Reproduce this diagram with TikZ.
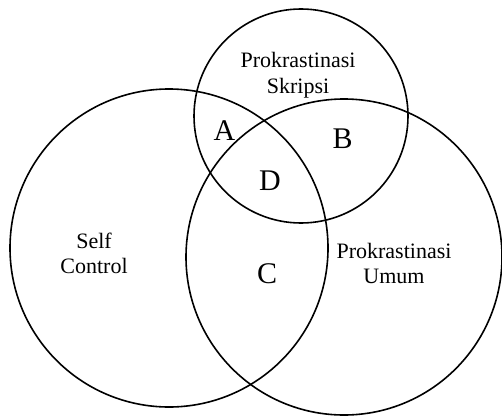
\documentclass[tikz,border=0pt]{standalone}
\usepackage{fontspec}
\setmainfont{Liberation Serif}
\begin{document}
\begin{tikzpicture}[x=1pt,y=-1pt,
  venn/.style={circle,draw,line width=1.6pt,inner sep=0pt,minimum size=#1},
  lbl/.style={font=\fontsize{22}{25}\selectfont,align=center,inner sep=0pt,anchor=base},
  region/.style={font=\fontsize{30}{34}\selectfont,inner sep=0pt,anchor=base}]
\useasboundingbox (0,0) rectangle (502,417);
\node[venn=214pt] (skripsi) at (301,116) {};
\node[venn=318pt] (self) at (169,248) {};
\node[venn=316pt] (umum) at (344,257) {};
\node[lbl] (tskripsi) at (298,93) {Prokrastinasi\\Skripsi};
\node[lbl] (tself) at (94,273) {Self\\Control};
\node[lbl] (tumum) at (394,283) {Prokrastinasi\\Umum};
\node[region] (A) at (224.5,140) {A};
\node[region] (B) at (342.5,148) {B};
\node[region] (D) at (270,190.5) {D};
\node[region] (C) at (267,283) {C};
\end{tikzpicture}
\end{document}
